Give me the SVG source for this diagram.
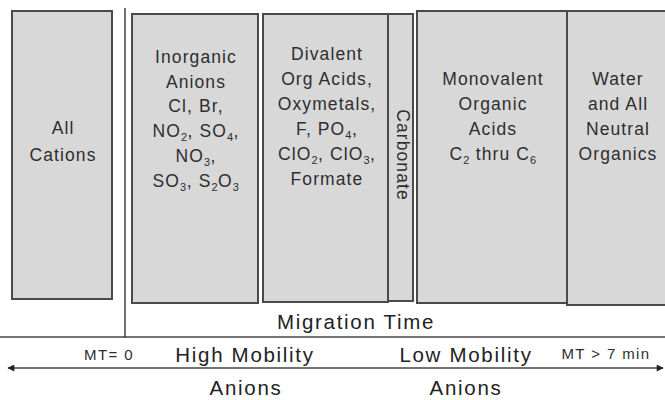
<svg xmlns="http://www.w3.org/2000/svg" width="665" height="400" viewBox="0 0 665 400">
<defs>
<style>
.box{fill:#d8d8d8;stroke:#4a4a4a;stroke-width:2}
.t{font-family:"Liberation Sans",Arial,sans-serif;font-size:17.5px;letter-spacing:1.1px;fill:#2e2e2e;text-anchor:middle}
.s{font-size:11px;letter-spacing:0.5px}
.axis{font-family:"Liberation Sans",Arial,sans-serif;font-size:20.5px;letter-spacing:1.7px;fill:#222;text-anchor:middle}
.mt{font-family:"Liberation Sans",Arial,sans-serif;font-size:15px;letter-spacing:1.4px;fill:#2e2e2e;text-anchor:middle}
.ln{stroke:#444;stroke-width:1.5;fill:none}
</style>
<marker id="ah" viewBox="0 0 10 10" refX="9" refY="5" markerWidth="8" markerHeight="7" orient="auto-start-reverse" markerUnits="userSpaceOnUse">
<path d="M0,0 L10,5 L0,10 z" fill="#222"/>
</marker>
</defs>
<rect width="665" height="400" fill="#fff"/>
<g id="cations">
<rect class="box" x="12" y="11" width="100" height="288"/>
<text class="t" x="63" y="134">All</text>
<text class="t" x="63" y="161">Cations</text>
</g>
<g id="inorganic">
<rect class="box" x="132" y="14" width="126" height="289"/>
<text class="t" x="196" y="63">Inorganic</text>
<text class="t" x="196" y="88">Anions</text>
<text class="t" x="196" y="112">Cl, Br,</text>
<text class="t" x="196" y="137">NO<tspan class="s" dy="4">2</tspan><tspan dy="-4">, SO</tspan><tspan class="s" dy="4">4</tspan><tspan dy="-4">,</tspan></text>
<text class="t" x="196" y="162">NO<tspan class="s" dy="4">3</tspan><tspan dy="-4">,</tspan></text>
<text class="t" x="196" y="187">SO<tspan class="s" dy="4">3</tspan><tspan dy="-4">, S</tspan><tspan class="s" dy="4">2</tspan><tspan dy="-4">O</tspan><tspan class="s" dy="4">3</tspan></text>
</g>
<g id="divalent">
<rect class="box" x="263" y="14" width="125" height="288"/>
<text class="t" x="327" y="60">Divalent</text>
<text class="t" x="327" y="85">Org Acids,</text>
<text class="t" x="327" y="110">Oxymetals,</text>
<text class="t" x="327" y="135">F, PO<tspan class="s" dy="4">4</tspan><tspan dy="-4">,</tspan></text>
<text class="t" x="327" y="160">ClO<tspan class="s" dy="4">2</tspan><tspan dy="-4">, ClO</tspan><tspan class="s" dy="4">3</tspan><tspan dy="-4">,</tspan></text>
<text class="t" x="327" y="185">Formate</text>
</g>
<g id="carbonate">
<rect class="box" x="388" y="14" width="25" height="287"/>
<text class="t" transform="translate(397 155) rotate(90)">Carbonate</text>
</g>
<g id="monovalent">
<rect class="box" x="417" y="11" width="150" height="292"/>
<text class="t" x="493" y="85">Monovalent</text>
<text class="t" x="493" y="110">Organic</text>
<text class="t" x="493" y="135">Acids</text>
<text class="t" x="493" y="160">C<tspan class="s" dy="4">2</tspan><tspan dy="-4"> thru C</tspan><tspan class="s" dy="4">6</tspan></text>
</g>
<g id="neutral">
<rect class="box" x="567" y="11" width="110" height="294"/>
<text class="t" x="618" y="85">Water</text>
<text class="t" x="618" y="110">and All</text>
<text class="t" x="618" y="135">Neutral</text>
<text class="t" x="618" y="160">Organics</text>
</g>
<g id="connectors">
<line class="ln" x1="125" y1="8" x2="125" y2="338"/>
<line class="ln" x1="0" y1="337" x2="665" y2="337"/>
<line class="ln" x1="8" y1="368" x2="663" y2="368" marker-start="url(#ah)" marker-end="url(#ah)"/>
</g>
<g id="labels">
<text class="axis" x="356" y="329">Migration Time</text>
<text class="mt" x="109" y="360">MT= 0</text>
<text class="axis" x="245" y="362">High Mobility</text>
<text class="axis" x="466" y="362">Low Mobility</text>
<text class="mt" x="606" y="359">MT &gt; 7 min</text>
<text class="axis" x="246" y="395">Anions</text>
<text class="axis" x="466" y="395">Anions</text>
</g>
</svg>
